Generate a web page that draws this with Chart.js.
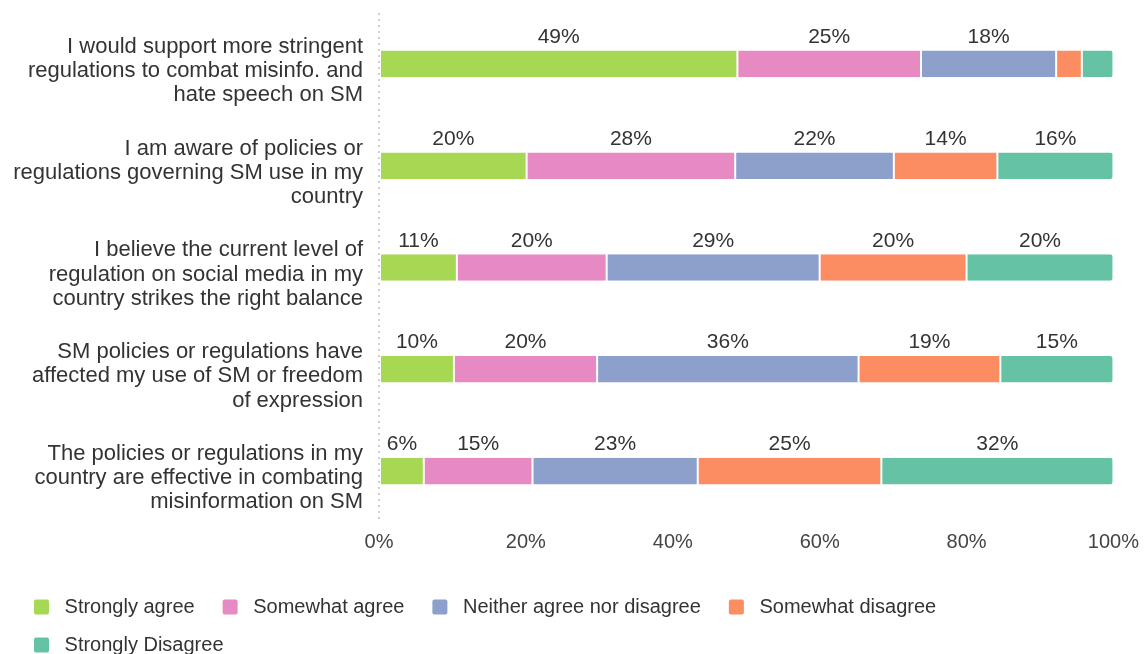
<!DOCTYPE html>
<html>
<head>
<meta charset="utf-8">
<script src="https://cdn.jsdelivr.net/npm/chart.js@4"></script>
<style>
  html, body { margin: 0; padding: 0; background: #fff; overflow: hidden; }
  #wrap { width: 1147px; height: 654px; }
</style>
</head>
<body>
<div id="wrap"><canvas id="myChart"></canvas></div>
<script>
let statements = [
  ['I would support more stringent', 'regulations to combat misinfo. and', 'hate speech on SM'],
  ['I am aware of policies or', 'regulations governing SM use in my', 'country'],
  ['I believe the current level of', 'regulation on social media in my', 'country strikes the right balance'],
  ['SM policies or regulations have', 'affected my use of SM or freedom', 'of expression'],
  ['The policies or regulations in my', 'country are effective in combating', 'misinformation on SM']
];

let answerNames = ['Strongly agree', 'Somewhat agree', 'Neither agree nor disagree', 'Somewhat disagree', 'Strongly Disagree'];

let strongAgree = [48.8, 20.1, 10.6, 10.2, 6.1];
let someAgree = [25.0, 28.4, 20.4, 19.5, 14.8];
let neither = [18.4, 21.6, 29.0, 35.6, 22.5];
let someDisagree = [3.5, 14.1, 20.0, 19.3, 25.0];
let strongDisagree = [4.3, 15.8, 20.0, 15.4, 31.6];

let xTicks = [0, 20, 40, 60, 80, 100];

const COLORS = ['#a6d854', '#e78ac3', '#8da0cb', '#fc8d62', '#66c2a5'];
const seriesValues = [strongAgree, someAgree, neither, someDisagree, strongDisagree];
const FONT = '"Liberation Sans", Arial, sans-serif';

// percent labels above each segment (small ones are skipped)
const segmentLabels = {
  id: 'segmentLabels',
  afterDatasetsDraw(chart) {
    const ctx = chart.ctx;
    ctx.save();
    ctx.font = '21px ' + FONT;
    ctx.fillStyle = '#333';
    ctx.textAlign = 'center';
    ctx.textBaseline = 'bottom';
    chart.data.datasets.forEach((ds, i) => {
      chart.getDatasetMeta(i).data.forEach((bar, j) => {
        const v = ds.data[j];
        if (v < 5) return;
        ctx.fillText(Math.round(v) + '%', (bar.x + bar.base) / 2, bar.y - bar.height / 2 - 3);
      });
    });
    ctx.restore();
  }
};

// legend wraps earlier, like the original (last item on its own row)
const narrowLegend = {
  id: 'narrowLegend',
  beforeLayout(chart) {
    const lg = chart.legend;
    if (!lg || lg._narrow) return;
    const fit = lg.fit;
    lg.fit = function () {
      this.maxWidth = Math.min(this.maxWidth, 1000);
      fit.call(this);
    };
    lg._narrow = true;
  },
  afterLayout(chart) {
    const lg = chart.legend;
    lg.left = 16;
    lg.right = 1000;
  }
};

let chartElement = document.getElementById('myChart').getContext('2d');

let myChart = new Chart(chartElement, {
  type: 'bar',
  data: {
    labels: statements,
    datasets: answerNames.map((name, i) => ({
      label: name,
      data: seriesValues[i],
      backgroundColor: COLORS[i],
      borderColor: '#ffffff',
      borderWidth: { left: 1, right: 1, top: 0, bottom: 0 },
      borderSkipped: false,
      borderRadius: i === answerNames.length - 1 ? { topRight: 3, bottomRight: 3 } : 0,
      barPercentage: 0.9,
      categoryPercentage: 0.29
    }))
  },
  options: {
    indexAxis: 'y',
    responsive: true,
    maintainAspectRatio: false,
    animation: false,
    layout: { padding: { top: 13, right: 33, left: 2, bottom: -11 } },
    scales: {
      x: {
        stacked: true,
        min: 0,
        max: 100,
        afterBuildTicks: (axis) => { axis.ticks = xTicks.map(v => ({ value: v })); },
        afterFit: (axis) => { axis.height = 57; },
        border: { display: false, dash: [2, 4] },
        grid: {
          drawTicks: false,
          lineWidth: 2,
          color: (c) => (c.tick && c.tick.value === 0 ? '#d0d0d0' : 'rgba(0,0,0,0)')
        },
        ticks: {
          padding: 8,
          color: '#444',
          font: { family: FONT, size: 20 },
          callback: (v) => v + '%'
        }
      },
      y: {
        stacked: true,
        afterFit: (axis) => {
          axis.width = 377;
          axis.paddingTop = 0;
          axis.paddingBottom = 0;
        },
        border: { display: false },
        grid: { display: false },
        ticks: {
          padding: 8,
          labelOffset: 7,
          color: '#333',
          font: { family: FONT, size: 22, lineHeight: 1.1 }
        }
      }
    },
    plugins: {
      legend: {
        position: 'bottom',
        align: 'start',
        labels: {
          boxWidth: 15,
          boxHeight: 15,
          useBorderRadius: true,
          borderRadius: 2,
          padding: 18,
          color: '#333',
          font: { family: FONT, size: 20 },
          generateLabels: (chart) => chart.data.datasets.map((ds, i) => ({
            text: ' ' + ds.label + '\u2002',
            fillStyle: COLORS[i],
            strokeStyle: COLORS[i],
            lineWidth: 0,
            borderRadius: 2,
            datasetIndex: i,
            fontColor: '#333'
          }))
        }
      },
      tooltip: { enabled: false }
    }
  },
  plugins: [segmentLabels, narrowLegend]
});
</script>
</body>
</html>
